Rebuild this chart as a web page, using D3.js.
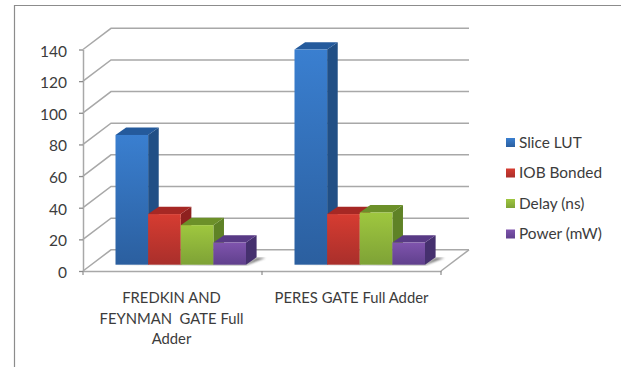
<!DOCTYPE html>
<html>
<head>
<meta charset="utf-8">
<script src="https://cdnjs.cloudflare.com/ajax/libs/d3/7.8.5/d3.min.js"></script>
<style>
  html, body { margin: 0; padding: 0; background: #fff; }
  svg { display: block; }
  text { font-family: Lato, "Open Sans", sans-serif; fill: #3c3c3c; }
</style>
</head>
<body>
<svg id="chart" width="621" height="367"></svg>
<script>
const categories = ["FREDKIN AND FEYNMAN GATE Full Adder", "PERES GATE Full Adder"];
const categoryLines = [["FREDKIN AND", "FEYNMAN  GATE Full", "Adder"], ["PERES GATE Full Adder"]];
const seriesNames = ["Slice LUT", "IOB Bonded", "Delay (ns)", "Power (mW)"];
const sliceLut = [82, 136];
const iobBonded = [32, 32];
const delayNs = [25, 33];
const powerMw = [14, 14];
const yTicks = [0, 20, 40, 60, 80, 100, 120, 140];

const seriesValues = [sliceLut, iobBonded, delayNs, powerMw];
const palette = [
  { top: "#245a9c", side: "#214f85", hi: "#3a7fd0", lo: "#2b5f9f" },
  { top: "#a62824", side: "#8e211f", hi: "#d63c31", lo: "#a92f2b" },
  { top: "#6c9029", side: "#5f8226", hi: "#9fc73f", lo: "#7ea236" },
  { top: "#583a85", side: "#45306e", hi: "#7f54ad", lo: "#60408d" }
];

const svg = d3.select("#chart");
const defs = svg.append("defs");

// Oblique projection: the floor recedes up and to the right.
const wallDx = 28, wallDy = -21.2;
const barDx = 10.6, barDy = -7.4;

const x0 = d3.scaleBand().domain(categories).range([83, 441]);
const y = d3.scaleLinear().domain([0, 140]).range([271, 49.5]);
const barBase = 264.7 - y(0);
const x1 = d3.scaleBand().domain(seriesNames)
  .range([32.5, 32.5 + 130.5]);

// Outer frame of the chart area
svg.append("path")
  .attr("d", "M14.5,367V5.5H621")
  .attr("fill", "none").attr("stroke", "#8c8c8c").attr("stroke-width", 1.2);

// Back wall gridlines and their diagonals along the side wall
const gridColor = "#a8a8a8";
const grid = svg.append("g").attr("fill", "none").attr("stroke", gridColor).attr("stroke-width", 1.5);
grid.selectAll("path.h").data(yTicks).join("path")
  .attr("class", "h")
  .attr("d", t => `M${83},${y(t)}L${83 + wallDx},${y(t) + wallDy}H${441 + wallDx}`);
grid.append("path")
  .attr("d", `M441,${y(0)}L${441 + wallDx},${y(0) + wallDy}`);

// Value axis and category axis
const yAxis = d3.axisLeft(y).tickValues(yTicks).tickSize(4).tickPadding(12).tickSizeOuter(0);
const gy = svg.append("g").attr("transform", "translate(83,0)").call(yAxis);
gy.select(".domain").attr("stroke", gridColor).attr("stroke-width", 1.5);
gy.selectAll(".tick line").attr("stroke", "#8c8c8c").attr("stroke-width", 1.3);
gy.selectAll(".tick text").attr("font-size", 15.5).attr("dy", "0.42em").style("fill", "#3c3c3c")
  .style("font-family", "Lato, sans-serif");

const xAxis = d3.axisBottom(x0).tickValues([]).tickSizeOuter(0);
const gx = svg.append("g").attr("transform", `translate(0,${y(0)})`).call(xAxis);
gx.select(".domain").attr("stroke", gridColor).attr("stroke-width", 1.5);
gx.selectAll("line.sep").data([83, 262, 441]).join("line")
  .attr("class", "sep")
  .attr("x1", d => d).attr("x2", d => d).attr("y1", 0).attr("y2", 4)
  .attr("stroke", "#8c8c8c").attr("stroke-width", 1.2);

// Soft ground shadow cast to the right of each bar group
defs.append("filter").attr("id", "soft").append("feGaussianBlur").attr("stdDeviation", 1.2);

palette.forEach((c, i) => {
  const g = defs.append("linearGradient").attr("id", `face${i}`)
    .attr("x1", 0).attr("x2", 0).attr("y1", 0).attr("y2", 1);
  g.append("stop").attr("offset", "0%").attr("stop-color", c.hi);
  g.append("stop").attr("offset", "100%").attr("stop-color", c.lo);
});

const groups = svg.append("g").selectAll("g").data(categories).join("g")
  .attr("transform", d => `translate(${x0(d)},0)`);

groups.append("path")
  .attr("d", () => {
    const l = x1(seriesNames[3]) + x1.bandwidth(), b = y(0) + barBase;
    return `M${x1(seriesNames[0]) - 2},${b + 0.5}H${l}L${l + barDx + 9},${b + barDy + 0.5}H${l + barDx}L${l},${b - 1}Z`;
  })
  .attr("fill", "#444").attr("opacity", 0.7).attr("filter", "url(#soft)");

groups.each(function (cat, ci) {
  const g = d3.select(this);
  seriesNames.forEach((name, si) => {
    const c = palette[si];
    const left = x1(name), w = x1.bandwidth();
    const top = y(seriesValues[si][ci]) + barBase, base = y(0) + barBase;
    g.append("path").attr("fill", c.side)
      .attr("d", `M${left + w},${top}l${barDx},${barDy}V${base + barDy}L${left + w},${base}Z`);
    g.append("path").attr("fill", c.top)
      .attr("d", `M${left},${top}l${barDx},${barDy}h${w}l${-barDx},${-barDy}Z`);
    g.append("rect").attr("fill", `url(#face${si})`)
      .attr("x", left).attr("y", top).attr("width", w).attr("height", base - top);
  });
});

// Category labels, wrapped as the axis breaks them
const labelGroups = svg.append("g").selectAll("text").data(categories).join("text")
  .attr("text-anchor", "middle")
  .attr("font-size", 14.8)
  .attr("x", (d, i) => [171.5, 351.5][i])
  .attr("y", 303)
  .attr("xml:space", "preserve");
labelGroups.selectAll("tspan").data((d, i) => categoryLines[i]).join("tspan")
  .attr("x", function () { return this.parentNode.getAttribute("x"); })
  .attr("dy", (d, i) => i === 0 ? 0 : 20.7)
  .style("white-space", "pre")
  .text(d => d);

// Legend
const legendY = d3.scalePoint().domain(seriesNames).range([142.5, 234]);
const legend = svg.append("g").selectAll("g").data(seriesNames).join("g")
  .attr("transform", d => `translate(506,${legendY(d)})`);
legend.append("rect").attr("x", 0).attr("y", -4.5).attr("width", 9).attr("height", 9)
  .attr("fill", (d, i) => `url(#face${i})`);
legend.append("text").attr("x", 13).attr("y", 5.3).attr("font-size", 15.4).text(d => d);
</script>
</body>
</html>
